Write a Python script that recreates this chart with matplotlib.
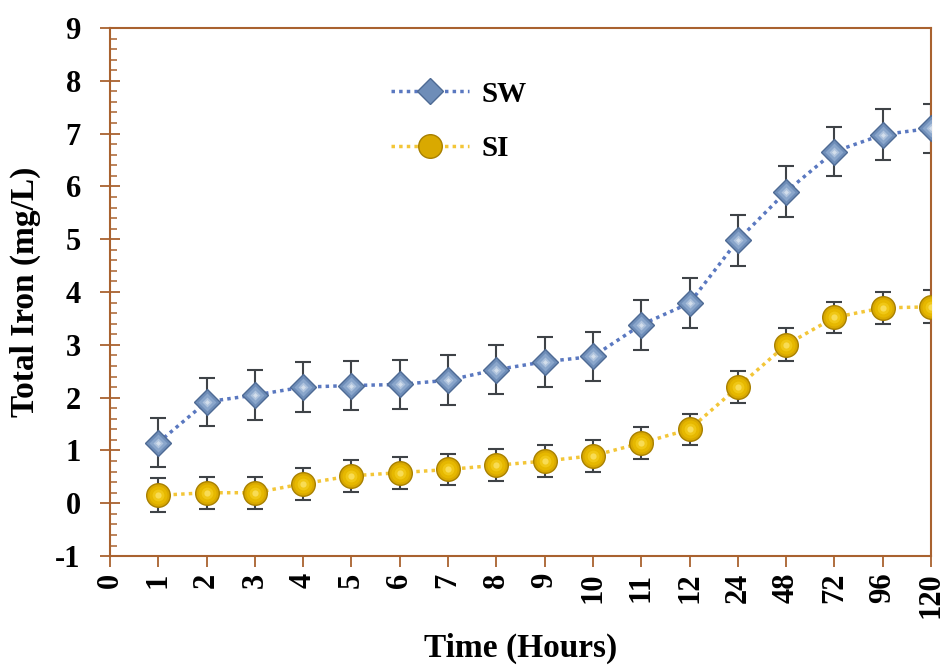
import matplotlib
matplotlib.use("Agg")
import matplotlib.pyplot as plt
from matplotlib.ticker import MultipleLocator

plt.rcParams['font.family'] = ['Liberation Serif', 'DejaVu Serif']
plt.rcParams['font.weight'] = 'bold'
plt.rcParams['axes.unicode_minus'] = False

# Data
time_labels = ["0", "1", "2", "3", "4", "5", "6", "7", "8", "9", "10", "11", "12",
               "24", "48", "72", "96", "120"]
sw_values = [1.15, 1.92, 2.05, 2.2, 2.23, 2.25, 2.33, 2.53, 2.68, 2.78, 3.38, 3.79,
             4.98, 5.9, 6.66, 6.98, 7.1]
sw_err = [0.46, 0.46, 0.47, 0.47, 0.46, 0.47, 0.47, 0.47, 0.47, 0.47, 0.47, 0.47,
          0.48, 0.48, 0.47, 0.48, 0.46]
si_values = [0.15, 0.2, 0.2, 0.37, 0.52, 0.58, 0.64, 0.72, 0.8, 0.9, 1.14, 1.4,
             2.2, 3.0, 3.52, 3.7, 3.72]
si_err = [0.32, 0.3, 0.3, 0.3, 0.3, 0.3, 0.3, 0.3, 0.3, 0.3, 0.3, 0.3,
          0.3, 0.31, 0.3, 0.31, 0.31]

x = list(range(1, len(time_labels)))

fig = plt.figure(figsize=(9.44, 6.66), dpi=100)
ax = fig.add_axes([0.1165, 0.165, 0.8697, 0.793])

spine_color = '#A9622F'
err_color = '#3F4347'

ax.errorbar(x, sw_values, yerr=sw_err, fmt='none', ecolor=err_color, elinewidth=1.5,
            capsize=6, capthick=1.5, zorder=2)
ax.errorbar(x, si_values, yerr=si_err, fmt='none', ecolor=err_color, elinewidth=1.5,
            capsize=6, capthick=1.5, zorder=2)

ax.plot(x, sw_values, linestyle=(0, (1, 1.2)), color='#5A78C0', linewidth=2.5,
        marker='D', markersize=13, markerfacecolor='#6E8DB8', markeredgecolor='#4E6A94',
        markeredgewidth=1.0, label='SW', zorder=3)
ax.plot(x, si_values, linestyle=(0, (1, 1.2)), color='#F3C638', linewidth=2.5,
        marker='o', markersize=17, markerfacecolor='#D9A900', markeredgecolor='#A88000',
        markeredgewidth=1.0, label='SI', zorder=3)
# soft shading layers for a 3-D look
for ms, col in [(9, '#8AA6CB'), (5, '#AFC3DD'), (2.5, '#D3DEEC')]:
    ax.plot(x, sw_values, linestyle='none', marker='D', markersize=ms,
            markerfacecolor=col, markeredgecolor='none', zorder=4)
for ms, col in [(13, '#E6B800'), (8.5, '#F0C715'), (4.5, '#F8DC55')]:
    ax.plot(x, si_values, linestyle='none', marker='o', markersize=ms,
            markerfacecolor=col, markeredgecolor='none', zorder=4)

ax.set_xlim(0, 17)
ax.set_ylim(-1, 9)
ax.set_xticks(range(len(time_labels)))
ax.set_xticklabels(time_labels, rotation=90, fontsize=22, fontweight='bold')
ax.yaxis.set_major_locator(MultipleLocator(1))
ax.yaxis.set_minor_locator(MultipleLocator(0.2))
for lab in ax.get_yticklabels():
    lab.set_fontsize(22)
    lab.set_fontweight('bold')

for s in ax.spines.values():
    s.set_color(spine_color)
    s.set_linewidth(1.5)

ax.tick_params(axis='y', which='major', direction='inout', length=14, width=1.3,
               color=spine_color, labelsize=22, pad=14)
ax.tick_params(axis='y', which='minor', direction='in', length=5, width=1.1,
               color=spine_color)
ax.tick_params(axis='x', which='major', direction='out', length=8, width=1.3,
               color=spine_color, labelsize=22, pad=4)

ax.set_xlabel('Time (Hours)', fontsize=24, fontweight='bold', labelpad=10)
ax.set_ylabel('Total Iron (mg/L)', fontsize=24, fontweight='bold', labelpad=10)

leg = ax.legend(loc='upper left', bbox_to_anchor=(0.31, 0.95), frameon=False,
                handlelength=2.7, labelspacing=0.95, handletextpad=0.4,
                prop={'weight': 'bold', 'size': 21})

fig.savefig('out.png', dpi=100)
